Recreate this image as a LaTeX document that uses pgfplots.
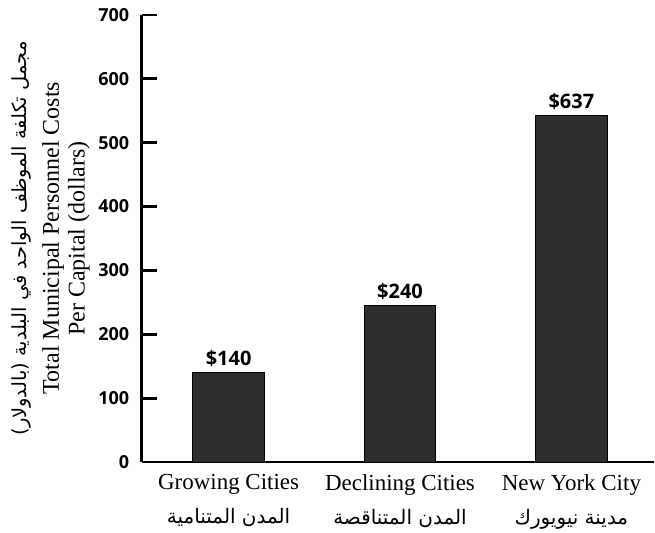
\documentclass[border=0pt]{standalone}
\usepackage{pgfplots}
\pgfplotsset{compat=1.18}
\usepackage{fontspec}
\setmainfont{Liberation Serif}
\newfontfamily\numfont{Open Sans}
\newfontfamily\arabicfont[Script=Arabic]{DejaVu Sans}
\TeXXeTstate=1
\begin{document}
\begin{tikzpicture}
\begin{axis}[
  name=ax,
  scale only axis, width=513pt, height=448pt,
  xmin=-0.507, xmax=2.48, ymin=0, ymax=700,
  axis x line=bottom, axis y line=left,
  axis line style={-, line width=2.7pt},
  ytick={0,100,...,700}, ytick pos=left, tick align=inside,
  major tick length=15pt, ytick style={line width=2.7pt, black},
  /pgf/number format/assume math mode=true,
  yticklabel style={font=\fontsize{18}{22}\numfont\bfseries, xshift=-9pt},
  xtick={0,1,2},
  xticklabels={{Growing Cities\\{\fontsize{20}{24}\arabicfont\beginR المدن المتنامية\endR}},
               {Declining Cities\\{\fontsize{20}{24}\arabicfont\beginR المدن المتناقصة\endR}},
               {New York City\\{\fontsize{20}{24}\arabicfont\beginR مدينة نيويورك\endR}}},
  xtick style={draw=none},
  xticklabel style={align=center, font=\fontsize{23}{34}\selectfont, yshift=6pt},
  ybar, bar width=72pt,
  nodes near coords, point meta=explicit symbolic,
  nodes near coords style={font=\fontsize{20}{22}\numfont\bfseries, black, yshift=2pt},
  ylabel={{\fontsize{19.5}{24}\arabicfont\beginR مجمل تكلفة الموظف الواحد في البلدية (بالدولار)\endR}\\[6pt]Total Municipal Personnel Costs\\Per Capital (dollars)},
  ylabel style={at={(axis description cs:-0.101,0.5)}, anchor=south, inner sep=0pt,
    align=center, font=\fontsize{24}{26}\selectfont},
  clip=false,
]
\addplot[fill=black!82, draw=black, line width=1pt] coordinates {(0,140) [\$140] (1,245) [\$240] (2,542) [\$637]};
\end{axis}
\path (ax.south west) ++(-142pt,-71pt);
\path (ax.north east) ++(0pt,15pt);
\end{tikzpicture}
\end{document}
